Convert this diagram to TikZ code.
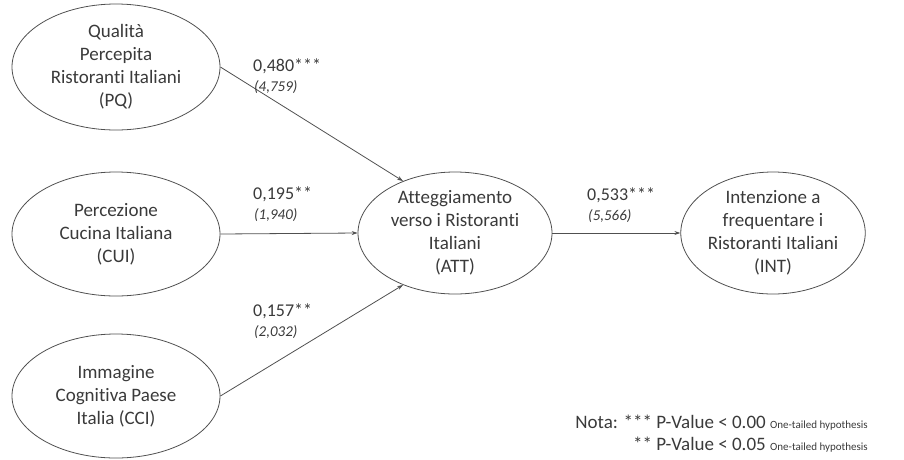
\documentclass[tikz,border=0pt]{standalone}
\usepackage{fontspec}
\setmainfont{Carlito}[Ligatures=NoCommon]
\usetikzlibrary{shapes.geometric,arrows.meta}
\definecolor{txt}{HTML}{3A3A3A}
\definecolor{ln}{HTML}{505050}
\tikzset{
  lv/.style={ellipse, draw=ln, line width=0.8pt, inner sep=0pt, text=txt, align=center,
    font=\fontsize{19}{23}\selectfont},
  path/.style={draw=ln, line width=0.8pt, -{Stealth[length=6pt,width=4pt]}},
  coef/.style={text=txt, anchor=base west, inner sep=0pt, font=\fontsize{18}{20}\selectfont},
  tval/.style={text=txt, anchor=base west, inner sep=0pt, font=\fontsize{15}{17}\selectfont\itshape},
  nota/.style={text=txt, anchor=base east, inner sep=0pt, font=\fontsize{19}{22}\selectfont},
}
\newcommand{\tailnote}{{\fontsize{11}{12}\selectfont One-tailed hypothesis}}
\begin{document}
\begin{tikzpicture}[x=1pt,y=-1pt]
\useasboundingbox (0,0) rectangle (904,459);
\node[lv, minimum width=208pt, minimum height=126pt] (pq) at (116,67) {Qualità\\Percepita\\Ristoranti Italiani\\(PQ)};
\node[lv, minimum width=208pt, minimum height=124pt] (cui) at (116,234) {Percezione\\Cucina Italiana\\(CUI)};
\node[lv, minimum width=208pt, minimum height=124pt] (cci) at (116,396) {Immagine\\Cognitiva Paese\\Italia (CCI)};
\node[lv, minimum width=194pt, minimum height=122pt] (att) at (455,233) {Atteggiamento\\verso i Ristoranti\\Italiani\\(ATT)};
\node[lv, minimum width=184pt, minimum height=122pt] (int) at (773,233) {Intenzione a\\frequentare i\\Ristoranti Italiani\\(INT)};
\draw[path] (pq.east) -- (att.135);
\draw[path] (cui.east) -- (att.west);
\draw[path] (cci.east) -- (att.-135);
\draw[path] (att.east) -- (int.west);
\node[coef] (c1) at (253,71) {0,480***};
\node[tval] (t1) at (254,91) {(4,759)};
\node[coef] (c2) at (253,199) {0,195**};
\node[tval] (t2) at (254,219) {(1,940)};
\node[coef] (c3) at (253,316) {0,157**};
\node[tval] (t3) at (254,336) {(2,032)};
\node[coef] (c4) at (587,200) {0,533***};
\node[tval] (t4) at (588,220) {(5,566)};
\node[nota] (n1) at (868,428) {Nota: *** P-Value {\textless} 0.00 \tailnote};
\node[nota] (n2) at (868,450) {** P-Value {\textless} 0.05 \tailnote};
\end{tikzpicture}
\end{document}
